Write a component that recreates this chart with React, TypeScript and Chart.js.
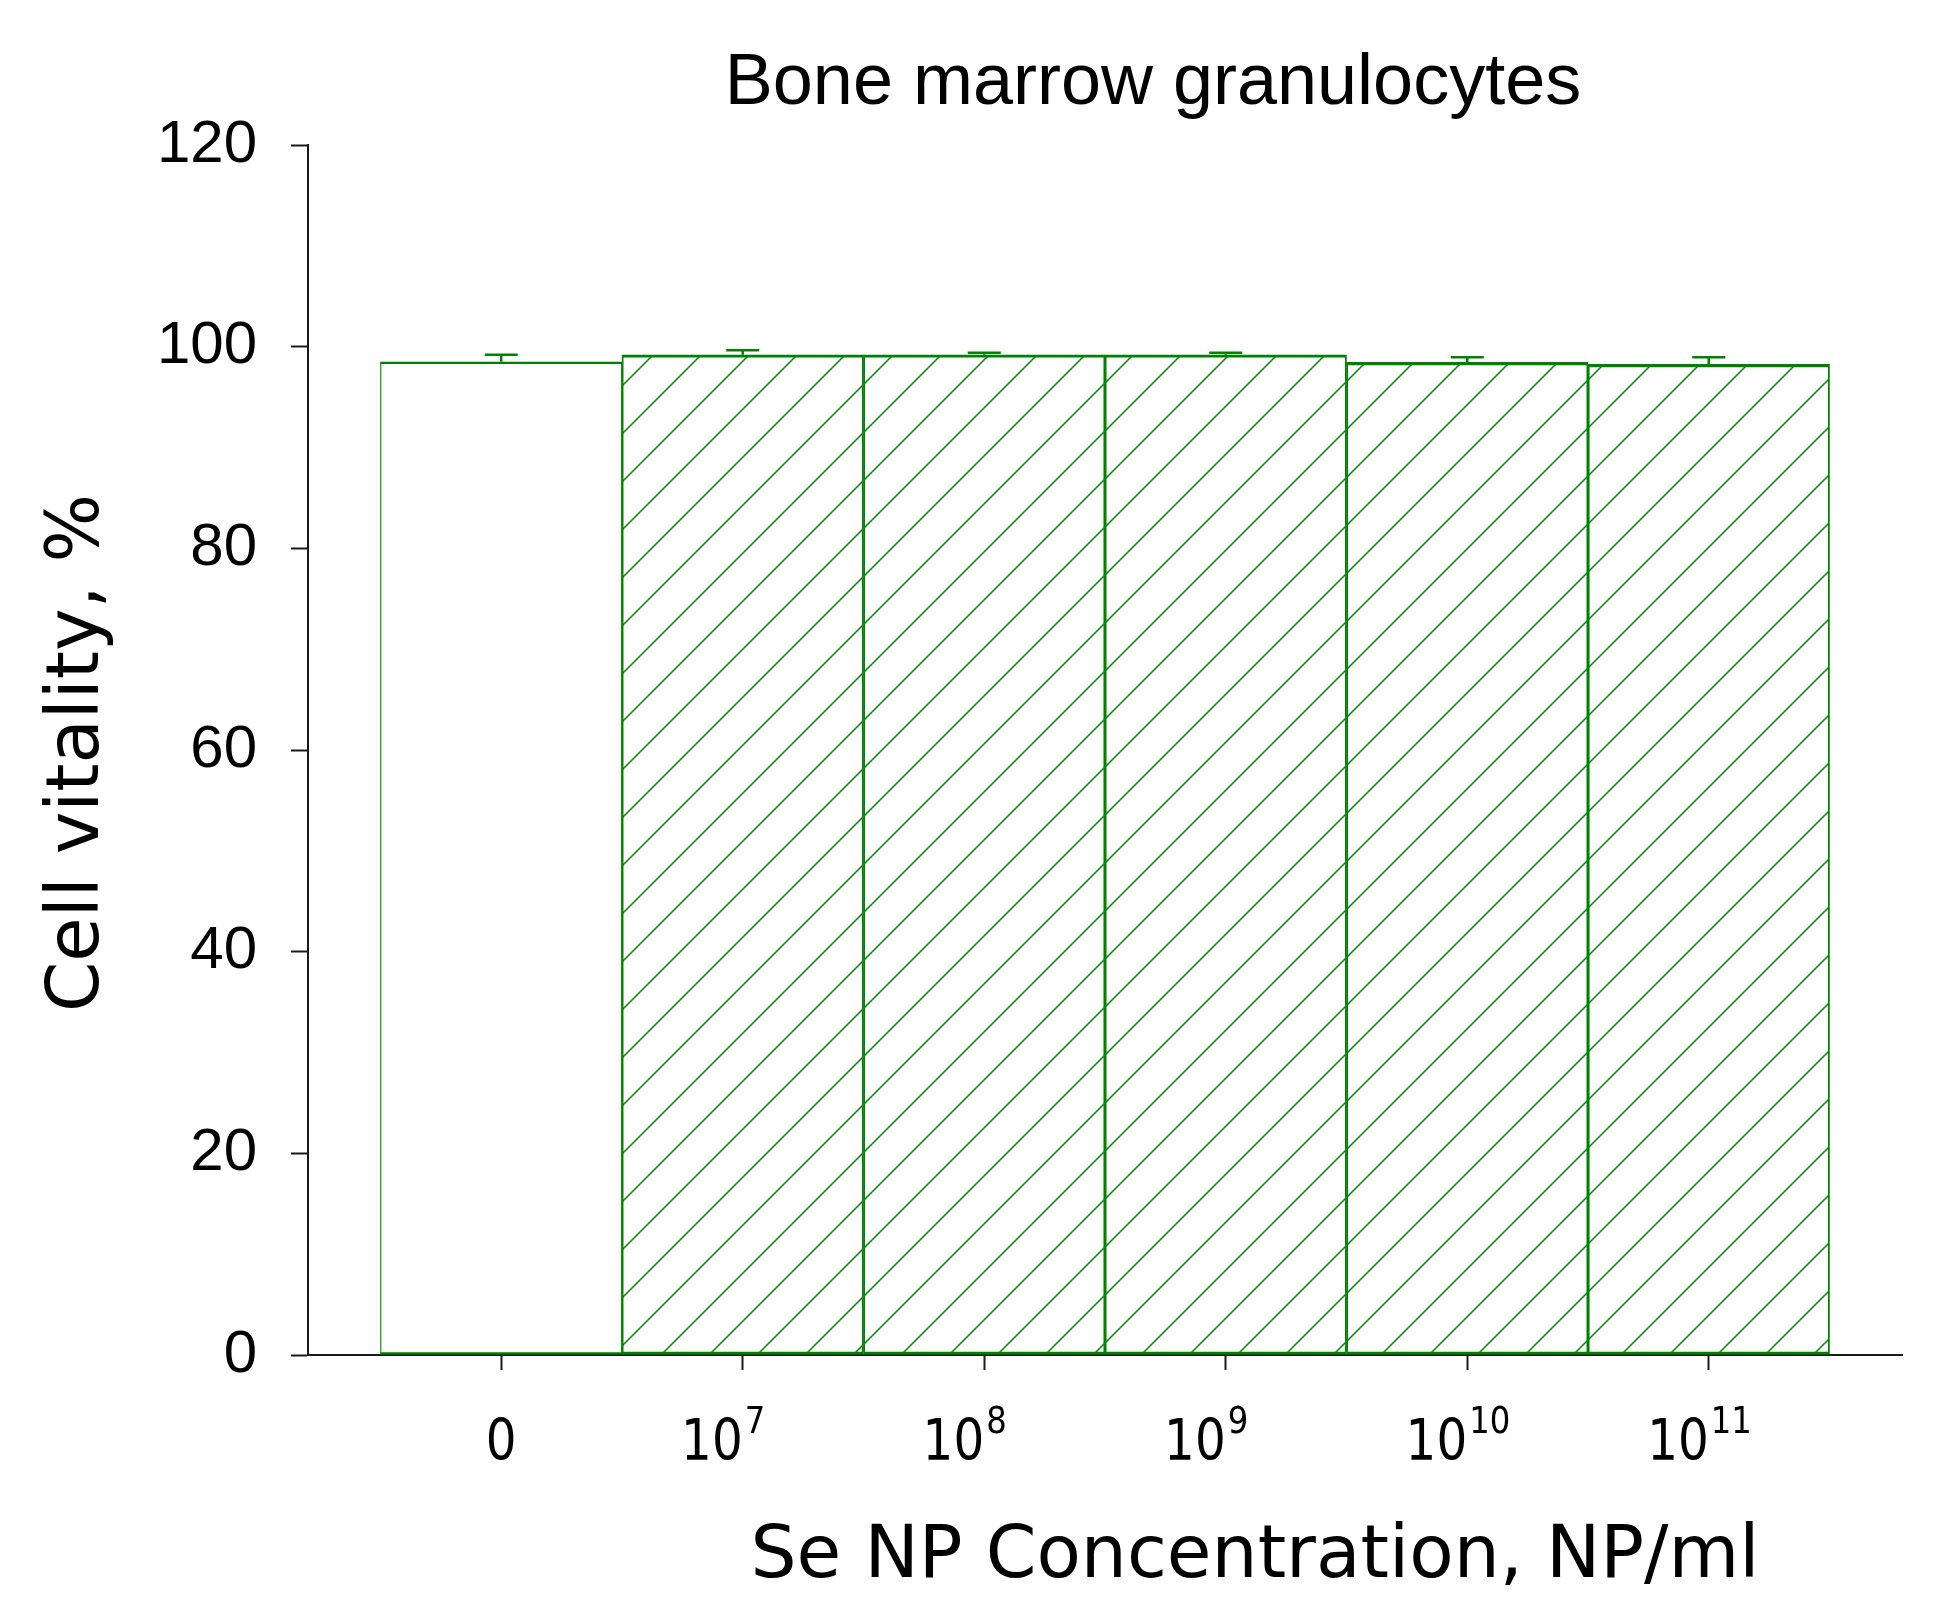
import React, { useEffect, useRef } from 'react';
import { Chart, registerables } from 'chart.js';

Chart.register(...registerables);

// ---- data ----
const tickLabels = ['0', '10^7', '10^8', '10^9', '10^10', '10^11'];
const vitality = [98.5, 99.2, 99.2, 99.2, 98.45, 98.25];
const vitalityErr = [0.7, 0.45, 0.2, 0.2, 0.5, 0.7];
const yTicks = [0, 20, 40, 60, 80, 100, 120];
const titleText = 'Bone marrow granulocytes';
const xTitle = 'Se NP Concentration, NP/ml';
const yTitle = 'Cell vitality, %';

const GREEN = '#008000';
const AXIS = '#1a1a1a';

function makeHatch(): CanvasPattern | string {
  const s = 48;
  const c = document.createElement('canvas');
  c.width = s;
  c.height = s;
  const g = c.getContext('2d');
  if (!g) return GREEN;
  g.strokeStyle = GREEN;
  g.lineWidth = 1.5;
  for (let k = -1; k <= 2; k++) {
    const d = k * s;
    g.beginPath();
    g.moveTo(d + 10, -10);
    g.lineTo(d - 60, 60);
    g.stroke();
  }
  return g.createPattern(c, 'repeat') || GREEN;
}

function drawScaled(
  ctx: CanvasRenderingContext2D,
  text: string,
  x: number,
  y: number,
  font: string,
  sx: number,
  align: CanvasTextAlign
) {
  ctx.save();
  ctx.font = font;
  ctx.translate(x, y);
  ctx.scale(sx, 1);
  ctx.textAlign = align;
  ctx.fillText(text, 0, 0);
  ctx.restore();
}

const decor = {
  id: 'decor',
  afterDatasetsDraw(chart: any) {
    const ctx: CanvasRenderingContext2D = chart.ctx;
    const ys = chart.scales.y;
    const meta = chart.getDatasetMeta(0);
    ctx.save();
    ctx.strokeStyle = GREEN;
    ctx.lineWidth = 2.5;
    meta.data.forEach((bar: any, i: number) => {
      const x = bar.x;
      const yb = bar.y;
      const yt = ys.getPixelForValue(vitality[i] + vitalityErr[i]);
      ctx.beginPath();
      ctx.moveTo(x, yb);
      ctx.lineTo(x, yt);
      ctx.moveTo(x - 16.5, yt);
      ctx.lineTo(x + 16.5, yt);
      ctx.stroke();
    });
    ctx.restore();
  },
  afterDraw(chart: any) {
    const ctx: CanvasRenderingContext2D = chart.ctx;
    const area = chart.chartArea;
    const xs = chart.scales.x;
    const cx = (area.left + area.right) / 2;
    ctx.save();
    ctx.fillStyle = '#000';
    ctx.textBaseline = 'alphabetic';

    // chart title
    ctx.font = '72px "Liberation Sans", Arial, sans-serif';
    ctx.textAlign = 'center';
    ctx.fillText(titleText, cx + 48, area.top - 41);

    // x axis title
    ctx.font = '73px "DejaVu Sans", Verdana, sans-serif';
    ctx.textAlign = 'center';
    ctx.fillText(xTitle, cx + 150, area.bottom + 222, 1009);

    // y axis title
    ctx.save();
    ctx.translate(area.left - 210, (area.top + area.bottom) / 2 + 3);
    ctx.rotate(-Math.PI / 2);
    ctx.textAlign = 'center';
    ctx.font = '73px "DejaVu Sans", Verdana, sans-serif';
    ctx.fillText(yTitle, 0, 0, 518);
    ctx.restore();

    // x tick labels with superscripts
    const baseFont = '57px "DejaVu Sans", Verdana, sans-serif';
    const supFont = '38px "DejaVu Sans", Verdana, sans-serif';
    const sx = 0.85;
    tickLabels.forEach((lab, i) => {
      const px = xs.getPixelForValue(i);
      const parts = lab.split('^');
      if (parts.length === 1) {
        drawScaled(ctx, parts[0], px, area.bottom + 105, baseFont, sx, 'center');
      } else {
        drawScaled(ctx, parts[0], px, area.bottom + 105, baseFont, sx, 'right');
        drawScaled(ctx, parts[1], px + 2, area.bottom + 78, supFont, sx, 'left');
      }
    });
    ctx.restore();
  },
};

export default function App() {
  const ref = useRef<HTMLCanvasElement | null>(null);

  useEffect(() => {
    document.body.style.margin = '0';
    const canvas = ref.current;
    if (!canvas) return;
    const hatch = makeHatch();
    const chart = new Chart(canvas, {
      type: 'bar',
      data: {
        datasets: [
          {
            data: vitality.map((v, i) => ({ x: i, y: v })),
            backgroundColor: vitality.map((_, i) => (i === 0 ? '#ffffff' : hatch)) as any,
            borderColor: GREEN,
            borderWidth: { top: 2.5, bottom: 2.5, left: 1.2, right: 1.2 },
            borderSkipped: false,
            barPercentage: 1,
            categoryPercentage: 1,
          } as any,
        ],
      },
      options: {
        responsive: false,
        animation: false,
        devicePixelRatio: 1,
        layout: { padding: { top: 145, right: 34, left: 0, bottom: 0 } },
        plugins: {
          legend: { display: false },
          tooltip: { enabled: false },
          title: { display: false },
        },
        scales: {
          x: {
            type: 'linear',
            min: -0.8,
            max: 5.8,
            offset: false,
            afterBuildTicks: (s: any) => {
              s.ticks = tickLabels.map((_, i) => ({ value: i }));
            },
            afterFit: (s: any) => {
              s.height = 266;
            },
            ticks: { display: false },
            grid: {
              offset: false,
              drawOnChartArea: false,
              drawTicks: true,
              tickLength: 15,
              tickWidth: 2,
              tickColor: AXIS,
            },
            border: { color: AXIS, width: 2 },
          },
          y: {
            min: 0,
            max: 120,
            afterBuildTicks: (s: any) => {
              s.ticks = yTicks.map((v) => ({ value: v }));
            },
            afterFit: (s: any) => {
              s.width = 308;
            },
            ticks: {
              color: '#000',
              padding: 34,
              font: { family: '"Liberation Sans", Arial, sans-serif', size: 60 },
            },
            grid: {
              drawOnChartArea: false,
              drawTicks: true,
              tickLength: 17,
              tickWidth: 2,
              tickColor: AXIS,
            },
            border: { color: AXIS, width: 2 },
          },
        },
      } as any,
      plugins: [decor],
    });
    return () => chart.destroy();
  }, []);

  return (
    <div style={{ width: 1936, height: 1621, background: '#fff' }}>
      <canvas ref={ref} width={1936} height={1621} style={{ display: 'block' }} />
    </div>
  );
}
